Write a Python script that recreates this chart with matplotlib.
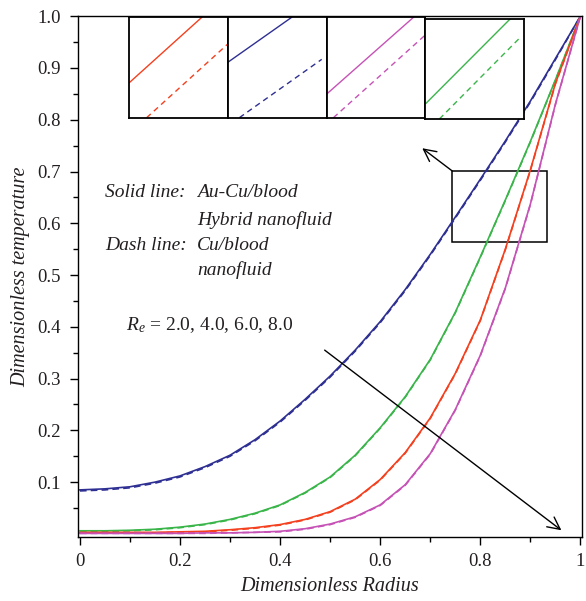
import numpy as np
import matplotlib as mpl
mpl.use('Agg')
import matplotlib.pyplot as plt
import matplotlib.ticker as ticker
from matplotlib.patches import Rectangle

plt.rcParams['font.family'] = ['Liberation Serif', 'DejaVu Serif']
plt.rcParams['mathtext.fontset'] = 'custom'
plt.rcParams['mathtext.rm'] = 'Liberation Serif'
plt.rcParams['mathtext.it'] = 'Liberation Serif:italic'

# Data
r = [0, 0.05, 0.1, 0.15, 0.2, 0.25, 0.3, 0.35, 0.4, 0.45, 0.5,
     0.55, 0.6, 0.65, 0.7, 0.75, 0.8, 0.85, 0.9, 0.95, 1.0]

# Au-Cu/blood hybrid nanofluid (solid)
hyb_blue = [0.085, 0.087, 0.091, 0.100, 0.112, 0.130, 0.152, 0.182, 0.218, 0.260, 0.305,
            0.355, 0.410, 0.472, 0.540, 0.612, 0.685, 0.759, 0.836, 0.918, 1.0]
hyb_green = [0.006, 0.006, 0.007, 0.009, 0.013, 0.019, 0.028, 0.040, 0.056, 0.080, 0.110,
             0.152, 0.205, 0.265, 0.337, 0.428, 0.535, 0.645, 0.758, 0.877, 1.0]
hyb_red = [0.003, 0.003, 0.003, 0.003, 0.004, 0.005, 0.008, 0.012, 0.018, 0.028, 0.043,
           0.067, 0.105, 0.157, 0.224, 0.310, 0.413, 0.550, 0.703, 0.870, 1.0]
hyb_pink = [0.001, 0.001, 0.001, 0.001, 0.001, 0.002, 0.002, 0.003, 0.005, 0.010, 0.019,
            0.033, 0.056, 0.095, 0.155, 0.240, 0.345, 0.475, 0.637, 0.830, 1.0]

# Cu/blood nanofluid (dashed)
nf_blue = [0.083, 0.085, 0.089, 0.098, 0.110, 0.128, 0.150, 0.180, 0.216, 0.258, 0.303,
           0.353, 0.408, 0.470, 0.538, 0.610, 0.683, 0.757, 0.834, 0.916, 1.0]
nf_green = [0.005, 0.005, 0.006, 0.008, 0.012, 0.018, 0.027, 0.039, 0.055, 0.079, 0.109,
            0.151, 0.204, 0.264, 0.336, 0.427, 0.534, 0.644, 0.757, 0.876, 1.0]
nf_red = [0.002, 0.002, 0.002, 0.002, 0.003, 0.004, 0.007, 0.011, 0.017, 0.027, 0.042,
          0.066, 0.104, 0.156, 0.223, 0.309, 0.412, 0.549, 0.702, 0.869, 1.0]
nf_pink = [0.001, 0.001, 0.001, 0.001, 0.001, 0.001, 0.002, 0.003, 0.004, 0.009, 0.018,
           0.032, 0.055, 0.094, 0.154, 0.239, 0.344, 0.474, 0.636, 0.829, 1.0]

colors = {'blue': '#2E2F92', 'green': '#3AB54A', 'red': '#F4401E', 'pink': '#C652B6'}

# zoomed inset segments (inset-normalised coords): red, blue, pink, green
inset_order = ['red', 'blue', 'pink', 'green']
inset_solid_x = [[0, 0.736], [0, 0.646], [0, 0.881], [0.01, 0.859]]
inset_solid_y = [[0.349, 1], [0.551, 1], [0.236, 1], [0.157, 1]]
inset_dash_x = [[0.176, 0.997], [0.118, 0.949], [0.068, 0.99], [0.145, 0.953]]
inset_dash_y = [[0, 0.731], [0, 0.581], [0, 0.814], [0, 0.807]]

txt_color = '#231F20'

# Figure
fig = plt.figure(figsize=(5.86, 6.01), dpi=100, facecolor='w')
ax = fig.add_axes([0.133, 0.1065, 0.86, 0.8665])

for key, hy, nf in [('blue', hyb_blue, nf_blue), ('green', hyb_green, nf_green),
                    ('red', hyb_red, nf_red), ('pink', hyb_pink, nf_pink)]:
    ax.plot(r, nf, color=colors[key], lw=1.2, ls=(0, (4, 2.5)))
    ax.plot(r, hy, color=colors[key], lw=1.2)

ax.set_xlim(-0.004, 1.003)
ax.set_ylim(-0.006, 1.0)
ax.xaxis.set_major_locator(ticker.MultipleLocator(0.2))
ax.xaxis.set_minor_locator(ticker.MultipleLocator(0.1))
ax.set_yticks(np.arange(0.1, 1.01, 0.1))
ax.yaxis.set_minor_locator(ticker.FixedLocator(np.arange(0.05, 1.0, 0.1)))
ax.xaxis.set_major_formatter(ticker.FuncFormatter(lambda v, p: '0' if v == 0 else ('1' if abs(v - 1) < 1e-9 else f'{v:.1f}')))
ax.yaxis.set_major_formatter(ticker.FuncFormatter(lambda v, p: f'{v:.1f}'))
ax.tick_params(axis='both', which='major', direction='out', length=5.5, width=1, labelsize=13.5, labelcolor=txt_color)
ax.tick_params(axis='both', which='minor', direction='out', length=3.5, width=1)
ax.tick_params(axis='y', which='major', pad=7)
ax.tick_params(axis='x', which='major', pad=6)
for s in ax.spines.values():
    s.set_linewidth(1.0)

ax.set_xlabel('Dimensionless Radius', fontsize=14.5, style='italic', labelpad=5, color=txt_color)
ax.set_ylabel('Dimensionless temperature', fontsize=14.5, style='italic', labelpad=5, color=txt_color)

# annotations
tkw = dict(fontsize=14, style='italic', va='center', color=txt_color)
ax.text(0.051, 0.659, 'Solid line:', **tkw)
ax.text(0.234, 0.659, 'Au-Cu/blood', **tkw)
ax.text(0.234, 0.607, 'Hybrid nanofluid', **tkw)
ax.text(0.051, 0.558, 'Dash line:', **tkw)
ax.text(0.234, 0.558, 'Cu/blood', **tkw)
ax.text(0.234, 0.510, 'nanofluid', **tkw)
ax.text(0.092, 0.404, '$R_e$ = 2.0, 4.0, 6.0, 8.0', fontsize=14, va='center', color=txt_color)

ax.annotate('', xy=(0.962, 0.007), xytext=(0.489, 0.355),
            arrowprops=dict(arrowstyle='->', color='k', lw=1, mutation_scale=22, shrinkA=0, shrinkB=0))
ax.add_patch(Rectangle((0.744, 0.564), 0.19, 0.137, fill=False, lw=1.1, ec='k'))
ax.annotate('', xy=(0.684, 0.745), xytext=(0.744, 0.701),
            arrowprops=dict(arrowstyle='->', color='k', lw=1, mutation_scale=22, shrinkA=0, shrinkB=0))

# inset boxes
inset_pos = [[0.2207, 0.8042, 0.168, 0.167], [0.3886, 0.8042, 0.169, 0.167],
             [0.5576, 0.8042, 0.168, 0.167], [0.7253, 0.802, 0.169, 0.1664]]
for i, key in enumerate(inset_order):
    ia = fig.add_axes(inset_pos[i])
    ia.plot(inset_solid_x[i], inset_solid_y[i], color=colors[key], lw=1.0)
    ia.plot(inset_dash_x[i], inset_dash_y[i], color=colors[key], lw=1.0, ls=(0, (4, 3)))
    ia.set_xlim(0, 1)
    ia.set_ylim(0, 1)
    ia.set_xticks([])
    ia.set_yticks([])
    for s in ia.spines.values():
        s.set_linewidth(1.3)

plt.savefig('out.png', dpi=100)
